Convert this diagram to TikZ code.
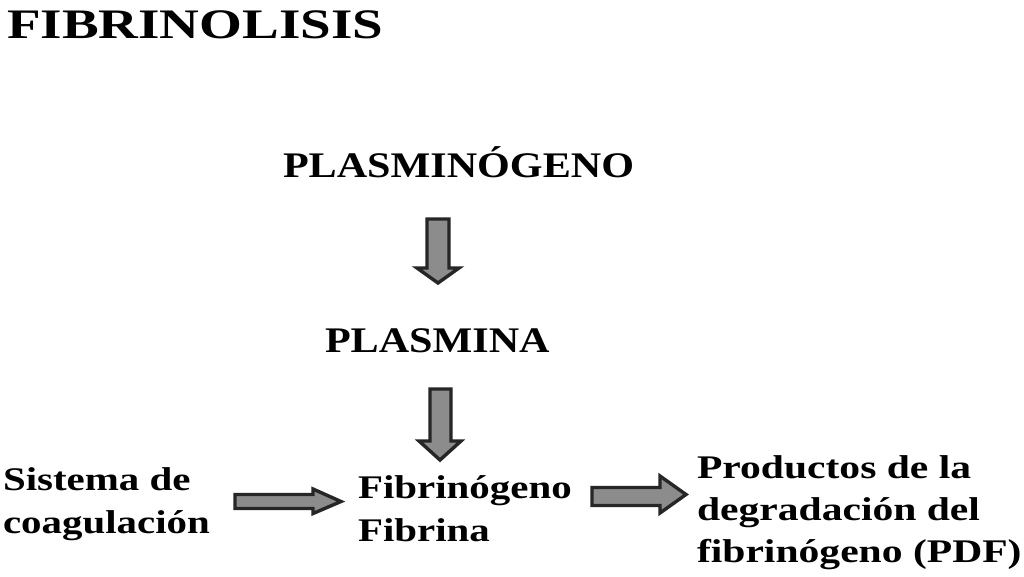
\documentclass[tikz,border=0pt]{standalone}
\usepackage{fontspec}
\usepackage{graphicx}
\setmainfont{Liberation Serif}
\begin{document}
\begin{tikzpicture}[x=1pt,y=-1pt,
  lbl/.style={inner sep=0pt,outer sep=0pt,anchor=base west},
  blockarrow/.style={draw=black!85,fill=black!45,line width=3.4pt,line join=miter}]
\useasboundingbox (0,0) rectangle (1024,576);
\fill[white] (0,0) rectangle (1024,576);
% title
\node[lbl] (title) at (7,38) {\scalebox{1.31}[1]{\fontsize{42}{50}\selectfont\bfseries FIBRINOLISIS}};
% main chain
\node[lbl] (pg) at (283,177) {\scalebox{1.17}[1]{\fontsize{36}{43}\selectfont\bfseries PLASMINÓGENO}};
\node[lbl] (pl) at (325,352) {\scalebox{1.17}[1]{\fontsize{36}{43}\selectfont\bfseries PLASMINA}};
\node[lbl] (sis) at (3,490) {\scalebox{1.24}[1]{\fontsize{33}{43}\selectfont\bfseries\begin{tabular}[t]{@{}l@{}}Sistema de\\coagulación\end{tabular}}};
\node[lbl] (fib) at (358,498) {\scalebox{1.24}[1]{\fontsize{33}{43}\selectfont\bfseries\begin{tabular}[t]{@{}l@{}}Fibrinógeno\\Fibrina\end{tabular}}};
\node[lbl] (pdf) at (697,478) {\scalebox{1.26}[1]{\fontsize{33}{42}\selectfont\bfseries\begin{tabular}[t]{@{}l@{}}Productos de la\\degradación del\\fibrinógeno (PDF)\end{tabular}}};
% block arrows
\draw[blockarrow] (427,219) -- (449,219) -- (449,268) -- (459,268) -- (438,283) -- (417,268) -- (427,268) -- cycle;
\draw[blockarrow] (430,389) -- (451,389) -- (451,441) -- (461,441) -- (440,460) -- (419,441) -- (430,441) -- cycle;
\draw[blockarrow] (235,494.5) -- (313,494.5) -- (313,489) -- (341,501.5) -- (313,513.5) -- (313,508.5) -- (235,508.5) -- cycle;
\draw[blockarrow] (592,487.5) -- (660,487.5) -- (660,476) -- (686,494.5) -- (660,513) -- (660,505.5) -- (592,505.5) -- cycle;
\end{tikzpicture}
\end{document}
